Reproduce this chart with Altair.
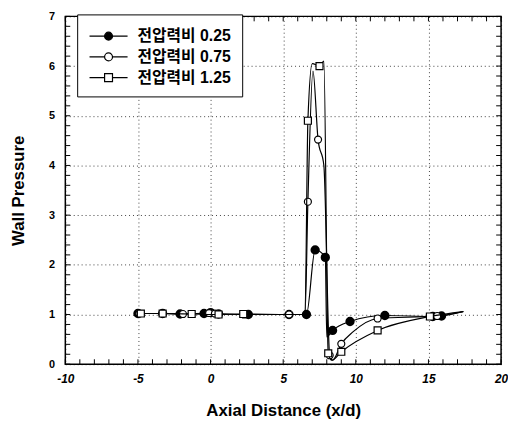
import altair as alt
import pandas as pd

series_labels = ["전압력비 0.25", "전압력비 0.75", "전압력비 1.25"]

x_025 = [-5.0, -3.3, -2.1, -0.45, 0.0, 0.55, 2.6, 5.4, 6.6, 7.2, 7.9, 8.0, 8.4, 9.6, 12.0, 15.3, 15.9, 17.4]
y_025 = [1.02, 1.02, 1.01, 1.02, 1.04, 1.01, 1.0, 1.0, 1.0, 2.3, 2.15, 0.55, 0.68, 0.86, 0.98, 0.96, 0.97, 1.06]
m_025 = [1, 1, 1, 1, 1, 1, 1, 1, 1, 1, 1, 0, 1, 1, 1, 1, 1, 0]

x_075 = [-4.9, -3.3, -1.9, -0.1, 0.3, 2.3, 5.4, 6.5, 6.7, 7.05, 7.4, 7.8, 8.2, 8.4, 9.0, 9.8, 11.5, 15.6, 17.4]
y_075 = [1.02, 1.02, 1.01, 1.03, 1.02, 1.0, 1.0, 1.0, 3.27, 5.9, 4.52, 4.0, 0.18, 0.08, 0.41, 0.65, 0.92, 0.97, 1.06]
m_075 = [1, 1, 1, 1, 1, 1, 1, 0, 1, 0, 1, 0, 1, 0, 1, 0, 1, 1, 0]

x_125 = [-4.8, -3.3, -1.3, 0.55, 2.25, 5.4, 6.5, 6.7, 7.0, 7.5, 7.8, 8.1, 8.35, 9.0, 11.5, 15.1, 17.4]
y_125 = [1.02, 1.02, 1.01, 1.0, 1.01, 1.0, 1.0, 4.9, 6.05, 6.0, 6.1, 0.22, 0.08, 0.25, 0.68, 0.96, 1.06]
m_125 = [1, 1, 1, 1, 1, 0, 0, 1, 0, 1, 0, 1, 0, 1, 1, 1, 0]

x_major = [-10, -5, 0, 5, 10, 15, 20]
y_major = [0, 1, 2, 3, 4, 5, 6, 7]
x_minor = list(range(-10, 21))
y_minor = [round(i * 0.2, 1) for i in range(36)]

rows = []
for lab, xs_, ys_, ms_ in [(series_labels[0], x_025, y_025, m_025),
                           (series_labels[1], x_075, y_075, m_075),
                           (series_labels[2], x_125, y_125, m_125)]:
    for i, (a, b, c) in enumerate(zip(xs_, ys_, ms_)):
        rows.append({"series": lab, "x": a, "y": b, "marker": c, "order": i})
df = pd.DataFrame(rows)
xt = pd.DataFrame({"v": x_minor})
yt = pd.DataFrame({"v": y_minor})

W, H = 441, 352
TL = 5

FONT = "Liberation Sans, Arial, sans-serif"
KFONT = "Liberation Sans, 'Noto Sans CJK KR', sans-serif"

xs = alt.Scale(domain=[-10, 20], nice=False, zero=False)
ys = alt.Scale(domain=[0, 7], nice=False, zero=False)

main_x = alt.Axis(values=x_major, title="Axial Distance (x/d)", ticks=False, domain=False,
                  grid=True, gridColor="black", gridDash=[1, 3], gridWidth=1, gridOpacity=0.75,
                  labelExpr="'' + datum.value",
                  labelFont=FONT, labelFontSize=12, labelFontWeight="bold", labelFontStyle="italic",
                  labelColor="black", labelPadding=10, labelFlush=False,
                  titleFont=FONT, titleFontSize=17, titleFontWeight="bold", titleColor="black",
                  titlePadding=18, orient="bottom")
main_y = alt.Axis(values=y_major, title="Wall Pressure", ticks=False, domain=False,
                  grid=True, gridColor="black", gridDash=[1, 3], gridWidth=1, gridOpacity=0.75,
                  labelFont=FONT, labelFontSize=11, labelFontWeight="bold",
                  labelColor="black", labelPadding=11, labelFlush=False,
                  titleFont=FONT, titleFontSize=17, titleFontWeight="bold", titleColor="black",
                  titlePadding=21, orient="left")


def base(name):
    return alt.Chart(df).transform_filter(alt.datum.series == name)


line_style = dict(interpolate="monotone", color="black", strokeWidth=1.2)

l1 = base(series_labels[0]).mark_line(**line_style).encode(
    x=alt.X("x:Q", scale=xs, axis=main_x), y=alt.Y("y:Q", scale=ys, axis=main_y), order="order:Q")
p1 = base(series_labels[0]).transform_filter(alt.datum.marker == 1).mark_point(
    shape="circle", filled=True, fill="black", stroke="black", size=55, opacity=1).encode(
    x=alt.X("x:Q", scale=xs, axis=None), y=alt.Y("y:Q", scale=ys, axis=None))
l2 = base(series_labels[1]).mark_line(**line_style).encode(
    x=alt.X("x:Q", scale=xs, axis=None), y=alt.Y("y:Q", scale=ys, axis=None), order="order:Q")
p2 = base(series_labels[1]).transform_filter(alt.datum.marker == 1).mark_point(
    shape="circle", filled=True, fill="white", stroke="black", strokeWidth=1.2, size=50, opacity=1).encode(
    x=alt.X("x:Q", scale=xs, axis=None), y=alt.Y("y:Q", scale=ys, axis=None))
l3 = base(series_labels[2]).mark_line(**line_style).encode(
    x=alt.X("x:Q", scale=xs, axis=None), y=alt.Y("y:Q", scale=ys, axis=None), order="order:Q")
p3 = base(series_labels[2]).transform_filter(alt.datum.marker == 1).mark_point(
    shape="square", filled=True, fill="white", stroke="black", strokeWidth=1.2, size=50, opacity=1).encode(
    x=alt.X("x:Q", scale=xs, axis=None), y=alt.Y("y:Q", scale=ys, axis=None))

tick_style = dict(color="black", strokeWidth=1)
tb = alt.Chart(xt).mark_rule(**tick_style).encode(
    x=alt.X("v:Q", scale=xs, axis=None), y=alt.value(H), y2=alt.value(H - TL))
tt = alt.Chart(xt).mark_rule(**tick_style).encode(
    x=alt.X("v:Q", scale=xs, axis=None), y=alt.value(0), y2=alt.value(TL))
tl = alt.Chart(yt).mark_rule(**tick_style).encode(
    y=alt.Y("v:Q", scale=ys, axis=None), x=alt.value(0), x2=alt.value(TL))
tr = alt.Chart(yt).mark_rule(**tick_style).encode(
    y=alt.Y("v:Q", scale=ys, axis=None), x=alt.value(W), x2=alt.value(W - TL))

# legend glyph: line with a marker in its middle (unit = sqrt(size)/2 px)
r = 0.4
a, c = -0.95, 2.9
b = round((a + c) / 2, 3)
circ = (f"M{a},0H{b - r}M{b + r},0H{c}"
        f"M{b - r},0A{r},{r} 0 1 0 {b + r},0A{r},{r} 0 1 0 {b - r},0Z")
sq = f"M{a},0H{b - r}M{b + r},0H{c}M{b - r},-{r}H{b + r}V{r}H{b - r}Z"
legend_paths = [circ, circ, sq]
legend_fills = ["black", "white", "white"]
SYM = 400

leg = alt.Legend(title=None, orient="none", legendX=12, legendY=-2, padding=11,
                 strokeColor="black", fillColor="white", labelFont=KFONT, labelFontSize=16,
                 labelFontWeight="bold", labelColor="black", symbolSize=SYM,
                 symbolStrokeColor="black", symbolStrokeWidth=1.2, labelOffset=28, rowPadding=2)

lg = alt.Chart(df).transform_filter("false").mark_point(
    filled=True, stroke="black", strokeWidth=1.2, size=SYM, opacity=1).encode(
    shape=alt.Shape("series:N", scale=alt.Scale(domain=series_labels, range=legend_paths), legend=leg),
    fill=alt.Fill("series:N", scale=alt.Scale(domain=series_labels, range=legend_fills), legend=leg),
    stroke=alt.Stroke("series:N", scale=alt.Scale(domain=series_labels, range=["black", "black", "black"]), legend=leg),
)

chart = alt.layer(l1, p1, l2, p2, l3, p3, tb, tt, tl, tr, lg).resolve_axis(
    x="independent", y="independent").properties(
    width=W, height=H,
    autosize=alt.AutoSizeParams(type="none"),
    padding={"left": 58, "top": 6, "right": 7, "bottom": 56},
).configure_view(stroke="black", strokeWidth=1.5)

chart.save("out.html", embed_options={"renderer": "svg", "actions": False})
